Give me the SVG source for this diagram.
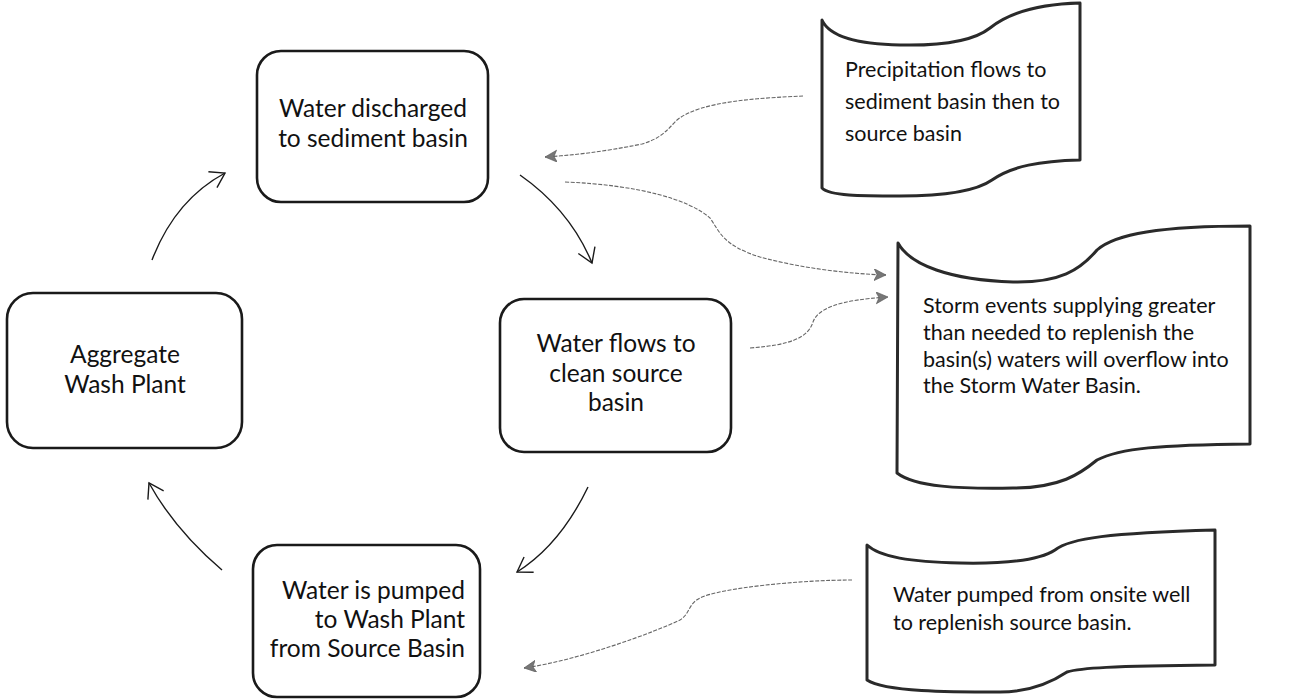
<svg xmlns="http://www.w3.org/2000/svg" width="1293" height="700" viewBox="0 0 1293 700">
<style>
.box{fill:#fff;stroke:#1a1a1a;stroke-width:2.6}
.doc{fill:#fff;stroke:#2a2a2a;stroke-width:3;stroke-linejoin:round}
.t{font-family:Lato,"Liberation Sans",sans-serif;fill:#111}
.nt{font-size:24.5px;text-anchor:middle}
.ne{font-size:24.5px;text-anchor:end}
.dt{font-size:21.5px}
.solid{fill:none;stroke:#1a1a1a;stroke-width:1.4}
.dot{fill:none;stroke:#666;stroke-width:1.1;stroke-dasharray:4 1.5}
</style>
<defs>
<marker id="open" markerUnits="userSpaceOnUse" markerWidth="24" markerHeight="24" refX="16" refY="10" orient="auto">
<path d="M2,1 L16,10 L2,19" fill="none" stroke="#1a1a1a" stroke-width="1.4"/>
</marker>
<marker id="tri" markerUnits="userSpaceOnUse" markerWidth="16" markerHeight="14" refX="12" refY="6" orient="auto">
<path d="M0,0 L12,6 L0,12 L3,6 Z" fill="#777" stroke="#555" stroke-width="0.6"/>
</marker>
</defs>
<rect width="1293" height="700" fill="#fff"/>

<g id="n-discharged">
<rect class="box" x="257" y="51" width="231" height="151" rx="24"/>
<text class="t nt" x="373" y="117">Water discharged</text>
<text class="t nt" x="373" y="147">to sediment basin</text>
</g>

<g id="n-washplant">
<rect class="box" x="7" y="293" width="235" height="155" rx="26"/>
<text class="t nt" x="125" y="363">Aggregate</text>
<text class="t nt" x="125" y="393">Wash Plant</text>
</g>

<g id="n-flows">
<rect class="box" x="500" y="299" width="231" height="153" rx="24"/>
<text class="t nt" x="616" y="352">Water  flows to</text>
<text class="t nt" x="616" y="382">clean source</text>
<text class="t nt" x="616" y="411">basin</text>
</g>

<g id="n-pumped">
<rect class="box" x="253" y="545" width="227" height="152" rx="24"/>
<text class="t ne" x="465" y="599">Water is pumped</text>
<text class="t ne" x="465" y="628">to Wash Plant</text>
<text class="t ne" x="465" y="657">from Source Basin</text>
</g>

<g id="d-precip">
<path class="doc" d="M822,20 C830,38 860,44 900,45 C945,46 975,40 990,28 C1010,12 1040,4 1080,3 L1080,160 C1040,161 1012,166 992,180 C975,192 940,196 900,196 C860,196 830,196 822,188 Z"/>
<text class="t dt" x="845" y="77">Precipitation flows to</text>
<text class="t dt" x="845" y="109">sediment basin then to</text>
<text class="t dt" x="845" y="141">source basin</text>
</g>

<g id="d-storm">
<path class="doc" d="M898,243 C910,265 950,280 1013,282 C1060,283 1080,270 1097,250 C1115,234 1160,226 1250,226 L1250,444 C1160,445 1120,448 1097,460 C1080,474 1060,488 1013,488 C960,489 915,487 897,473 Z"/>
<text class="t dt" x="923" y="313">Storm events supplying greater</text>
<text class="t dt" x="923" y="340">than needed to replenish the</text>
<text class="t dt" x="923" y="367">basin(s) waters will overflow into</text>
<text class="t dt" x="923" y="393">the Storm Water Basin.</text>
</g>

<g id="d-well">
<path class="doc" d="M867,545 C880,557 910,562 960,563 C1010,564 1040,560 1055,550 C1070,538 1110,533 1215,530 L1215,665 C1110,666 1080,668 1067,672 C1052,682 1030,692 1000,692 C950,692 885,692 867,680 Z"/>
<text class="t dt" x="893" y="602">Water pumped from onsite well</text>
<text class="t dt" x="893" y="630">to replenish source basin.</text>
</g>

<g id="connectors">
<path class="solid" d="M152,260 Q175,200 225,173" marker-end="url(#open)"/>
<path class="solid" d="M520,175 Q570,210 592,263" marker-end="url(#open)"/>
<path class="solid" d="M588,487 Q560,545 517,572" marker-end="url(#open)"/>
<path class="solid" d="M222,570 Q175,530 149,483" marker-end="url(#open)"/>
<path class="dot" d="M803,96 C760,98 700,101 677,120 C667,130 662,138 642,144 C602,152 575,155 545,157" marker-end="url(#tri)"/>
<path class="dot" d="M565,182 C640,185 690,200 710,218 C720,232 722,245 760,257 C800,268 850,274 886,275" marker-end="url(#tri)"/>
<path class="dot" d="M750,348 C790,345 808,338 813,322 C818,308 840,300 888,297" marker-end="url(#tri)"/>
<path class="dot" d="M852,580 C800,580 720,588 700,598 C688,604 690,614 680,620 C655,632 580,660 524,668" marker-end="url(#tri)"/>
</g>
</svg>
